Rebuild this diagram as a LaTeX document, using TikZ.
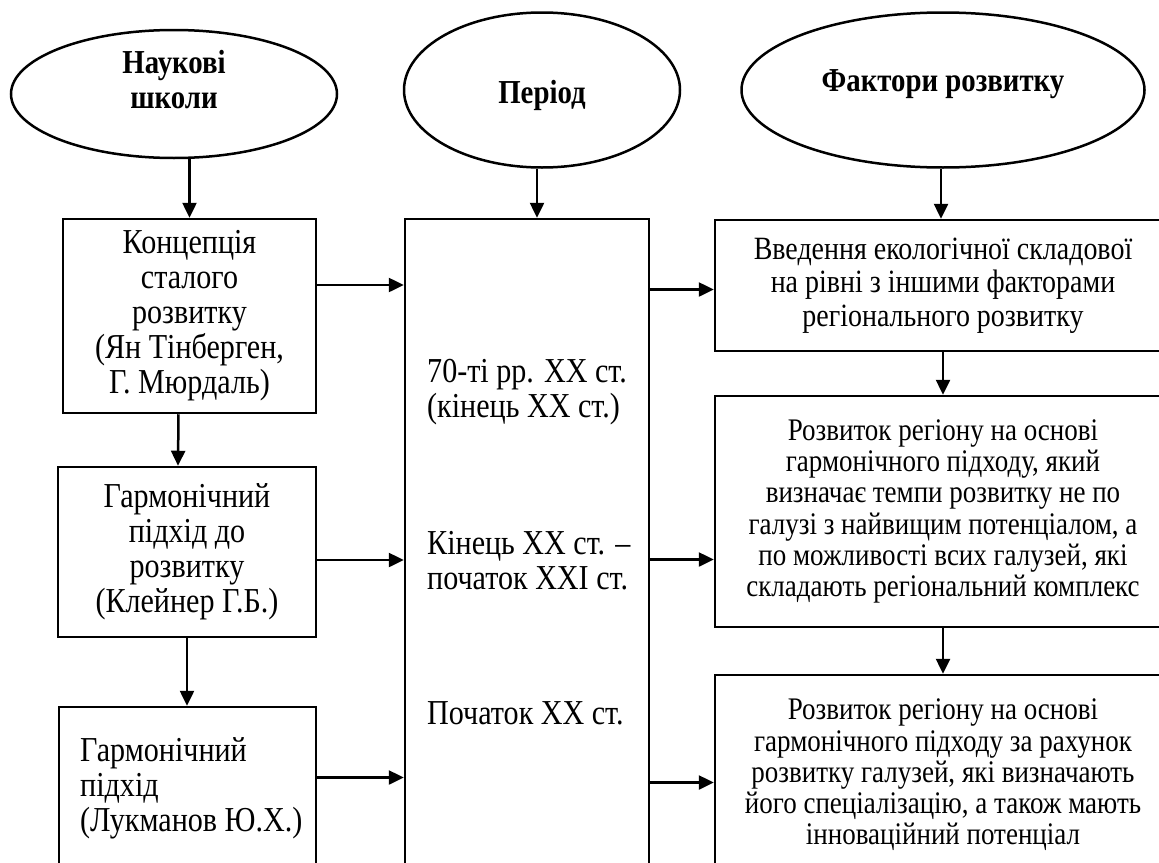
\documentclass[tikz,border=0pt]{standalone}
\usepackage{fontspec}
\setmainfont{Liberation Serif}[FakeStretch=0.86]
\usetikzlibrary{shapes.geometric,arrows.meta}
\tikzset{
  oval/.style={draw,ellipse,line width=2.5pt,inner sep=0pt},
  head/.style={font=\bfseries\fontsize{33.5}{40}\selectfont,align=center,inner sep=0pt},
  box/.style={draw,rectangle,line width=2.5pt,inner sep=0pt,align=center},
  big/.style={font=\fontsize{35}{35}\selectfont},
  mid/.style={font=\fontsize{32.5}{33.5}\selectfont},
  small/.style={font=\fontsize{31.4}{31.3}\selectfont},
  arr/.style={line width=2.5pt,-{Triangle[length=15pt,width=14pt]}},
  per/.style={font=\fontsize{35}{35}\selectfont,align=left,anchor=west,inner sep=0pt}
}
\begin{document}
\begin{tikzpicture}[x=1pt,y=-1pt]
\useasboundingbox (0,0) rectangle (1159,862);
\clip (0,0) rectangle (1159,862);
% ellipses
\node[oval,minimum width=326pt,minimum height=128pt] (e1) at (174,94) {};
\node[head,font=\bfseries\fontsize{33.5}{35}\selectfont] (t1) at (174,80) {Наукові\\школи};
\node[oval,minimum width=276pt,minimum height=155pt] (e2) at (542,90) {};
\node[head] (t2) at (542,95) {Період};
\node[oval,minimum width=403pt,minimum height=155pt] (e3) at (943,90) {};
\node[head] (t3) at (943,84) {Фактори розвитку};
% left boxes
\node[box,big,minimum width=253pt,minimum height=194pt] (b1) at (189.5,316) {Концепція\\сталого\\розвитку\\(Ян Тінберген,\\Г. Мюрдаль)};
\node[box,big,minimum width=258pt,minimum height=170pt] (b2) at (187,552) {Гармонічний\\підхід до\\розвитку\\(Клейнер Г.Б.)};
\node[box,minimum width=257pt,minimum height=173pt] (b3) at (187.5,793.5) {};
\node[per] (l3) at (80,788) {Гармонічний\\підхід\\(Лукманов Ю.Х.)};
% middle box
\node[box,minimum width=244pt,minimum height=661pt] (m) at (527,549.5) {};
\node[per] (p1) at (427,392) {70-ті рр. XX ст.\\(кінець XX ст.)};
\node[per] (p2) at (427,560.5) {Кінець XX ст. –\\початок XXI ст.};
\node[per] (p3) at (427,713) {Початок XX ст.};
% right boxes
\node[box,mid,minimum width=456pt,minimum height=131pt] (r1) at (943,285.5) {Введення екологічної складової\\на рівні з іншими факторами\\регіонального розвитку};
\node[box,small,minimum width=456pt,minimum height=231pt] (r2) at (943,511.5) {Розвиток регіону на основі\\гармонічного підходу, який\\визначає темпи розвитку не по\\галузі з найвищим потенціалом, а\\по можливості всих галузей, які\\складають регіональний комплекс};
\node[box,minimum width=456pt,minimum height=205pt] (r3) at (943,777.5) {};
\node[small,align=center,inner sep=0pt] (l6) at (943,775) {Розвиток регіону на основі\\гармонічного підходу за рахунок\\розвитку галузей, які визначають\\його спеціалізацію, а також мають\\інноваційний потенціал};
% vertical arrows
\draw[arr] (b1.north |- e1.south) -- (b1.north);
\draw[arr] ([xshift=-11pt]b1.south) -- ([xshift=-9pt]b2.north);
\draw[arr] (b2.south) -- (b2.south |- b3.north);
\draw[arr] ([xshift=-5pt]e2.south) -- ([xshift=10pt]m.north);
\draw[arr] ([xshift=-2pt]e3.south) -- ([xshift=-2pt]r1.north);
\draw[arr] (r1.south) -- (r2.north);
\draw[arr] (r2.south) -- (r3.north);
% horizontal arrows
\draw[arr] ([yshift=31pt]b1.east) -- ([yshift=31pt]b1.east -| m.west);
\draw[arr] ([yshift=-8pt]b2.east) -- ([yshift=-8pt]b2.east -| m.west);
\draw[arr] ([yshift=16pt]b3.east) -- ([yshift=16pt]b3.east -| m.west);
\draw[arr] ([yshift=-4pt]r1.west -| m.east) -- ([yshift=-4pt]r1.west);
\draw[arr] ([yshift=-48pt]r2.west -| m.east) -- ([yshift=-48pt]r2.west);
\draw[arr] ([yshift=-5pt]r3.west -| m.east) -- ([yshift=-5pt]r3.west);
\end{tikzpicture}
\end{document}
